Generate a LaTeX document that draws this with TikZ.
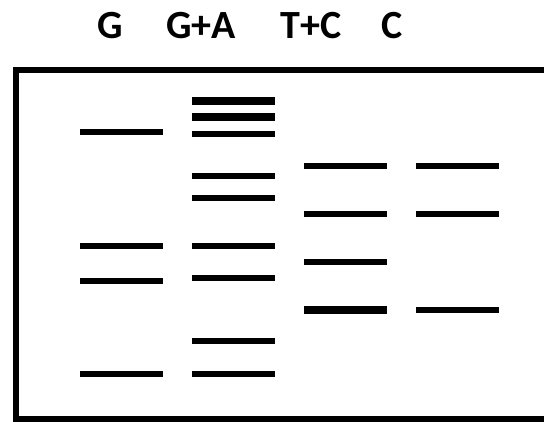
\documentclass[tikz,border=0pt]{standalone}
\usepackage{fontspec}
\setmainfont{Carlito}
\begin{document}
\begin{tikzpicture}[x=1pt,y=-1pt,
  band/.style={fill=black, inner sep=0pt, minimum width=83pt, minimum height=6pt},
  heavy/.style={band, minimum height=8pt},
  lanelabel/.style={font=\bfseries\fontsize{40}{40}\selectfont, inner sep=0pt, anchor=base}]
\useasboundingbox (0,0) rectangle (544,422);
\clip (0,0) rectangle (544,422);

% gel frame, open past the right edge
\draw[line width=6pt] (600,70) -- (16,70) -- (16,419) -- (600,419);

% lane labels
\node[lanelabel] (lG)  at (110,39) {G};
\node[lanelabel] (lGA) at (201,39) {G+A};
\node[lanelabel] (lTC) at (311,39) {T+C};
\node[lanelabel] (lC)  at (392,39) {C};

% G lane
\node[band] (g1) at (121.5,132) {};
\node[band] (g2) at (121.5,246) {};
\node[band] (g3) at (121.5,281) {};
\node[band] (g4) at (121.5,374) {};

% G+A lane
\node[heavy] (ga1) at (233.5,101.5) {};
\node[heavy] (ga2) at (233.5,117.5) {};
\node[band]  (ga3) at (233.5,134) {};
\node[band]  (ga4) at (233.5,176) {};
\node[band]  (ga5) at (233.5,198) {};
\node[band]  (ga6) at (233.5,246) {};
\node[band]  (ga7) at (233.5,278) {};
\node[band]  (ga8) at (233.5,341.5) {};
\node[band]  (ga9) at (233.5,374) {};

% T+C lane
\node[band]  (tc1) at (345.5,166) {};
\node[band]  (tc2) at (345.5,214) {};
\node[band]  (tc3) at (345.5,262) {};
\node[heavy] (tc4) at (345.5,310) {};

% C lane
\node[band] (c1) at (457.5,166) {};
\node[band] (c2) at (457.5,214) {};
\node[band] (c3) at (457.5,310) {};
\end{tikzpicture}
\end{document}
